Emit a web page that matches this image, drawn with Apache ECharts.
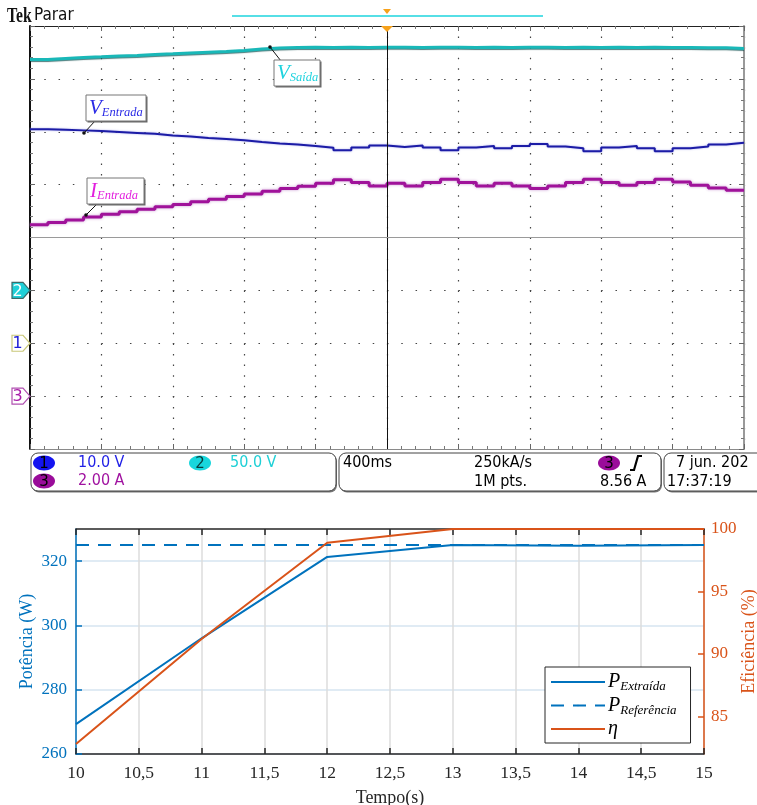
<!DOCTYPE html>
<html><head><meta charset="utf-8">
<script src="https://cdn.jsdelivr.net/npm/echarts@6/dist/echarts.min.js"></script>
<style>html,body{margin:0;padding:0;background:#fff}#c{width:757px;height:805px}</style>
</head><body><div id="c"></div>
<script>
// ---------- Oscilloscope data (0.4 s/div, 10 div) ----------
const timeScope = [0,0.1,0.2,0.3,0.4,0.5,0.6,0.7,0.8,0.9,1.0,1.1,1.2,1.3,1.4,1.5,1.6,1.7,1.8,1.9,2.0,
  2.1,2.2,2.3,2.4,2.5,2.6,2.7,2.8,2.9,3.0,3.1,3.2,3.3,3.4,3.5,3.6,3.7,3.8,3.9,4.0];
// CH2 V_Saida (V), 50 V/div
const vSaida = [218.3,219.3,220.2,220.9,221.7,222.1,223.1,223.7,224.5,225.2,225.9,226.8,228.3,229.2,229.7,229.9,229.7,229.8,229.7,229.9,
  229.8,229.7,229.8,229.9,229.7,229.8,229.7,229.8,229.9,229.7,229.8,229.7,229.8,229.7,229.8,229.7,229.6,229.5,229.4,228.8,228.8];
// CH1 V_Entrada (V), 10 V/div
const vEntrada = [40.45,40.36,40.26,40.12,39.97,39.78,39.6,39.31,39.12,38.84,38.65,38.37,38.05,37.8,37.6,37.3,36.99,36.5,37.0,37.4,
  37.1,37.4,37.0,36.5,37.0,37.3,36.9,37.3,37.7,37.2,36.9,36.3,37.0,37.3,36.9,36.3,36.9,37.2,37.6,37.9,37.9];
// CH3 I_Entrada (A), 2 A/div
const iEntrada = [6.48,6.57,6.66,6.78,6.88,6.97,7.07,7.16,7.25,7.35,7.45,7.55,7.65,7.75,7.85,7.94,8.05,8.18,8.08,7.95,
  8.05,7.95,8.08,8.20,8.08,7.95,8.05,7.95,7.85,7.95,8.08,8.20,8.08,7.98,8.08,8.20,8.10,7.98,7.87,7.79,7.79];
const chScale = {ch1: 10, ch2: 50, ch3: 2};
const chOffset = {ch1: -2, ch2: -1, ch3: -3}; // ground level in divisions

// ---------- MATLAB plot data ----------
const tempo = [10, 11, 12, 13, 14, 15];
const pExtraida = [269.3, 296.0, 321.3, 325.0, 324.8, 325.0];
const pReferencia = [325, 325, 325, 325, 325, 325];
const eficiencia = [82.8, 91.2, 98.9, 100, 100, 100];
const potTicks = [260, 280, 300, 320];
const efTicks = [85, 90, 95, 100];

const SERIF = '"Liberation Serif", "DejaVu Serif", serif';
const TEKF = '"DejaVu Sans Condensed", "Liberation Sans Narrow", "DejaVu Sans", sans-serif';
const BLUE = '#0072BD', ORANGE = '#D95319';

const toDiv = (arr, ch) => timeScope.map((t, i) => [t, arr[i] / chScale[ch] + chOffset[ch]]);

const chart = echarts.init(document.getElementById('c'));

const scopeTick = {show: true, inside: true, length: 5, lineStyle: {color: '#666', width: 1}};
const scopeMinor = {show: true, splitNumber: 5, length: 3, lineStyle: {color: '#777', width: 1}};

const option = {
  animation: false,
  backgroundColor: '#fff',
  grid: [
    {left: 30, top: 26, width: 714, height: 423, show: false, outerBoundsMode: 'none', containLabel: false},
    {left: 76, top: 529, width: 628, height: 225, show: false, outerBoundsMode: 'none', containLabel: false}
  ],
  xAxis: [
    {gridIndex: 0, type: 'value', min: 0, max: 4, interval: 0.4,
      axisLine: {show: true, onZero: false, lineStyle: {color: '#8a8a8a', width: 1}},
      axisTick: scopeTick, minorTick: scopeMinor, axisLabel: {show: false},
      splitLine: {show: true, lineStyle: {color: '#444', width: 1.2, type: [1.5, 9.08]}}},
    {gridIndex: 0, type: 'value', min: 0, max: 4, interval: 0.4, position: 'top',
      axisLine: {show: true, onZero: false, lineStyle: {color: '#222', width: 1}},
      axisTick: scopeTick, minorTick: scopeMinor, axisLabel: {show: false}, splitLine: {show: false}},
    {gridIndex: 1, type: 'value', min: 10, max: 15, interval: 0.5,
      name: 'Tempo(s)', nameLocation: 'middle', nameGap: 35, nameMoveOverlap: false,
      nameTextStyle: {fontFamily: SERIF, fontSize: 18, color: '#262626'},
      axisLine: {show: true, onZero: false, lineStyle: {color: '#262626', width: 1.5}},
      axisTick: {show: true, inside: true, length: 6, lineStyle: {color: '#262626', width: 1.5}},
      axisLabel: {color: '#262626', fontFamily: SERIF, fontSize: 17.5, margin: 10,
        formatter: v => String(v).replace('.', ',')},
      splitLine: {show: true, lineStyle: {color: '#dcdcdc', width: 1.5}}},
    {gridIndex: 1, type: 'value', min: 10, max: 15, interval: 0.5, position: 'top',
      axisLine: {show: true, onZero: false, lineStyle: {color: '#262626', width: 1.5}},
      axisTick: {show: true, inside: true, length: 6, lineStyle: {color: '#262626', width: 1.5}},
      axisLabel: {show: false}, splitLine: {show: false}}
  ],
  yAxis: [
    {gridIndex: 0, type: 'value', min: -4, max: 4, interval: 1,
      axisLine: {show: true, onZero: false, lineStyle: {color: '#111', width: 2}},
      axisTick: scopeTick, minorTick: scopeMinor, axisLabel: {show: false},
      splitLine: {show: true, lineStyle: {color: '#444', width: 1.2, type: [1.5, 12.78]}}},
    {gridIndex: 0, type: 'value', min: -4, max: 4, interval: 1, position: 'right',
      axisLine: {show: true, onZero: false, lineStyle: {color: '#9a9a9a', width: 2}},
      axisTick: scopeTick, minorTick: scopeMinor, axisLabel: {show: false}, splitLine: {show: false}},
    {gridIndex: 1, type: 'value', min: 260, max: 330, interval: 20,
      name: 'Potência (W)', nameLocation: 'middle', nameGap: 40, nameRotate: 90, nameMoveOverlap: false,
      nameTextStyle: {fontFamily: SERIF, fontSize: 18, color: BLUE},
      axisLine: {show: true, onZero: false, lineStyle: {color: BLUE, width: 1.5}},
      axisTick: {show: true, inside: true, length: 6, customValues: potTicks, lineStyle: {color: BLUE, width: 1.5}},
      axisLabel: {color: BLUE, fontFamily: SERIF, fontSize: 17, margin: 9, customValues: potTicks},
      splitLine: {show: true, lineStyle: {color: '#d6e5f1', width: 1.5}}},
    {gridIndex: 1, type: 'value', min: 82, max: 100, position: 'right',
      name: 'Eficiência (%)', nameLocation: 'middle', nameGap: 36, nameRotate: 90, nameMoveOverlap: false,
      nameTextStyle: {fontFamily: SERIF, fontSize: 18, color: ORANGE},
      axisLine: {show: true, onZero: false, lineStyle: {color: ORANGE, width: 1.5}},
      axisTick: {show: true, inside: true, length: 6, customValues: efTicks, lineStyle: {color: ORANGE, width: 1.5}},
      axisLabel: {color: ORANGE, fontFamily: SERIF, fontSize: 17, margin: 7, customValues: efTicks},
      splitLine: {show: false}}
  ],
  legend: {
    data: ['P_Extraída', 'P_Referência', 'η'],
    left: 545, top: 667, orient: 'vertical',
    backgroundColor: '#fff', borderColor: '#262626', borderWidth: 1, borderRadius: 0,
    padding: [5, 14, 4, 5], itemWidth: 54, itemHeight: 2, itemGap: 2,
    formatter: name => {
      if (name === 'η') return '{e|η}';
      const parts = name.split('_');
      return '{p|' + parts[0] + '}{s|' + parts[1] + '}';
    },
    textStyle: {
      color: '#000', fontFamily: SERIF, padding: [0, 0, 0, -2],
      rich: {
        p: {fontFamily: SERIF, fontStyle: 'italic', fontSize: 20, color: '#000', height: 21},
        s: {fontFamily: SERIF, fontStyle: 'italic', fontSize: 13, color: '#000', padding: [10, 0, 0, 0]},
        e: {fontFamily: SERIF, fontStyle: 'italic', fontSize: 20, color: '#000', height: 21}
      }
    }
  },
  series: [
    {name: 'V_Saida', type: 'line', xAxisIndex: 0, yAxisIndex: 0, step: 'end', symbol: 'none',
      data: toDiv(vSaida, 'ch2'),
      lineStyle: {color: '#19b8b8', width: 3, shadowColor: 'rgba(0,70,70,0.7)', shadowBlur: 1, shadowOffsetY: 1},
      markLine: {silent: true, symbol: 'none', label: {show: false},
        data: [{xAxis: 2, lineStyle: {color: '#111', width: 1, type: 'solid'}},
               {yAxis: 0, lineStyle: {color: '#9a9a9a', width: 1, type: 'solid'}}]}},
    {name: 'V_Entrada', type: 'line', xAxisIndex: 0, yAxisIndex: 0, step: 'end', symbol: 'none',
      data: toDiv(vEntrada, 'ch1'),
      lineStyle: {color: '#1c1ca6', width: 2, shadowColor: 'rgba(150,150,230,0.8)', shadowBlur: 2}},
    {name: 'I_Entrada', type: 'line', xAxisIndex: 0, yAxisIndex: 0, step: 'end', symbol: 'none',
      data: toDiv(iEntrada, 'ch3'),
      lineStyle: {color: '#a0129a', width: 3, shadowColor: 'rgba(200,150,210,0.95)', shadowBlur: 3}},
    {name: 'P_Extraída', type: 'line', xAxisIndex: 2, yAxisIndex: 2, symbol: 'none',
      data: tempo.map((t, i) => [t, pExtraida[i]]), lineStyle: {color: BLUE, width: 2}, itemStyle: {color: BLUE}},
    {name: 'P_Referência', type: 'line', xAxisIndex: 2, yAxisIndex: 2, symbol: 'none',
      data: tempo.map((t, i) => [t, pReferencia[i]]), lineStyle: {color: BLUE, width: 2, type: [13, 9]}, itemStyle: {color: BLUE}},
    {name: 'η', type: 'line', xAxisIndex: 2, yAxisIndex: 3, symbol: 'none', clip: false,
      data: tempo.map((t, i) => [t, eficiencia[i]]), lineStyle: {color: ORANGE, width: 2}, itemStyle: {color: ORANGE}}
  ]
};
chart.setOption(option);

// ---------- Decorations (scope chrome, annotations, status panel) ----------
const px = (x, y) => chart.convertToPixel({xAxisIndex: 0, yAxisIndex: 0}, [x, y]);
const g = [];
const txt = (x, y, text, o, extra) => g.push(Object.assign({type: 'text', z: 30, style: Object.assign({x, y, text, fill: '#000',
  fontFamily: TEKF, fontSize: 16, align: 'left', verticalAlign: 'middle'}, o || {})}, extra || {}));

// header
txt(0, 0, 'Tek', {fontFamily: SERIF, fontWeight: 'bold', fontSize: 20, fill: '#111'}, {x: 7, y: 17, scaleX: 0.78});
txt(34, 16, 'Parar', {fontFamily: TEKF, fontSize: 17, fill: '#111'});
g.push({type: 'rect', z: 20, shape: {x: 232, y: 15, width: 311, height: 2}, style: {fill: '#56dfe6'}});
const topC = px(2, 4);
g.push({type: 'polygon', z: 20, shape: {points: [[topC[0] - 4, 9], [topC[0] + 4, 9], [topC[0], 14]]}, style: {fill: '#f7a21b'}});
g.push({type: 'polygon', z: 20, shape: {points: [[topC[0] - 6, topC[1]], [topC[0] + 6, topC[1]], [topC[0], topC[1] + 6]]}, style: {fill: '#f7a21b'}});

// channel ground markers
[['2', 'ch2', '#1fd0d8', '#fff', '#3a6a6a'], ['1', 'ch1', '#fff', '#2020d8', '#c9c77a'], ['3', 'ch3', '#fff', '#a81aa8', '#b050b0']].forEach(m => {
  const p = px(0, chOffset[m[1]]);
  const y = p[1], x1 = p[0];
  g.push({type: 'polygon', z: 20, shape: {points: [[x1 - 18, y - 8], [x1 - 7, y - 8], [x1, y], [x1 - 7, y + 8], [x1 - 18, y + 8]]},
    style: {fill: m[2], stroke: m[4], lineWidth: 1.2}});
  txt(x1 - 12.5, y + 1, m[0], {fill: m[3], fontSize: 16, align: 'center', fontFamily: '"DejaVu Sans", sans-serif'});
});

// annotations
function note(bx, by, bw, bh, main, sub, color, ptFrom, ptTo) {
  g.push({type: 'line', z: 21, shape: {x1: ptFrom[0], y1: ptFrom[1], x2: ptTo[0], y2: ptTo[1]}, style: {stroke: '#111', lineWidth: 1}});
  g.push({type: 'circle', z: 21, shape: {cx: ptTo[0], cy: ptTo[1], r: 1.8}, style: {fill: '#111'}});
  g.push({type: 'rect', z: 21, shape: {x: bx + 1.5, y: by + 1.5, width: bw, height: bh}, style: {fill: '#666'}});
  g.push({type: 'rect', z: 22, shape: {x: bx, y: by, width: bw, height: bh}, style: {fill: '#fff', stroke: '#777', lineWidth: 1}});
  g.push({type: 'text', z: 23, style: {x: bx + 3, y: by + bh / 2, text: '{v|' + main + '}{s|' + sub + '}', align: 'left', verticalAlign: 'middle',
    rich: {v: {fontFamily: SERIF, fontStyle: 'italic', fontSize: 21, fill: color},
           s: {fontFamily: SERIF, fontStyle: 'italic', fontSize: 12.5, fill: color, padding: [9, 0, 0, 0]}}}});
}
note(274, 60, 46, 26, 'V', 'Saída', '#1fd3de', [281, 61], [270, 47]);
note(86, 95, 60, 26, 'V', 'Entrada', '#2a2ae6', [95, 121], [84, 133]);
note(87, 178, 57, 26, 'I', 'Entrada', '#e21ede', [97, 204], [86, 215]);

// status panel
function box(x, y, w, h) {
  g.push({type: 'rect', z: 20, shape: {x: x + 1, y: y + 1.5, width: w, height: h, r: 7}, style: {fill: '#777'}});
  g.push({type: 'rect', z: 21, shape: {x, y, width: w, height: h, r: 7}, style: {fill: '#fff', stroke: '#444', lineWidth: 1}});
}
box(31, 453, 305, 38);
box(339, 453, 322, 38);
box(664, 453, 110, 38);
function badge(cx, cy, label, fill, tcol) {
  g.push({type: 'ellipse', z: 25, shape: {cx, cy, rx: 11, ry: 7.5}, style: {fill}});
  txt(cx, cy + 1, label, {fill: tcol, align: 'center', fontSize: 15, fontFamily: '"DejaVu Sans", sans-serif'});
}
badge(44, 463, '1', '#1414f0', '#000');
badge(200, 463, '2', '#18d6dc', '#073c3c');
badge(44, 481, '3', '#9a0c9a', '#000');
badge(609, 463, '3', '#9a0c9a', '#000');
txt(78, 463, '10.0 V', {fill: '#1f1fe6'});
txt(230, 463, '50.0 V', {fill: '#1fd0d6'});
txt(78, 481, '2.00 A', {fill: '#a012a0'});
txt(343, 463, '400ms');
txt(474, 463, '250kA/s');
txt(474, 482, '1M pts.');
g.push({type: 'polyline', z: 30, shape: {points: [[630, 470], [634, 470], [638, 456], [642, 456]]}, style: {stroke: '#000', lineWidth: 2.2, fill: null}});
txt(600, 482, '8.56 A');
txt(676, 463, '7 jun. 202');
txt(667, 482, '17:37:19');
chart.setOption({graphic: g});
</script></body></html>
